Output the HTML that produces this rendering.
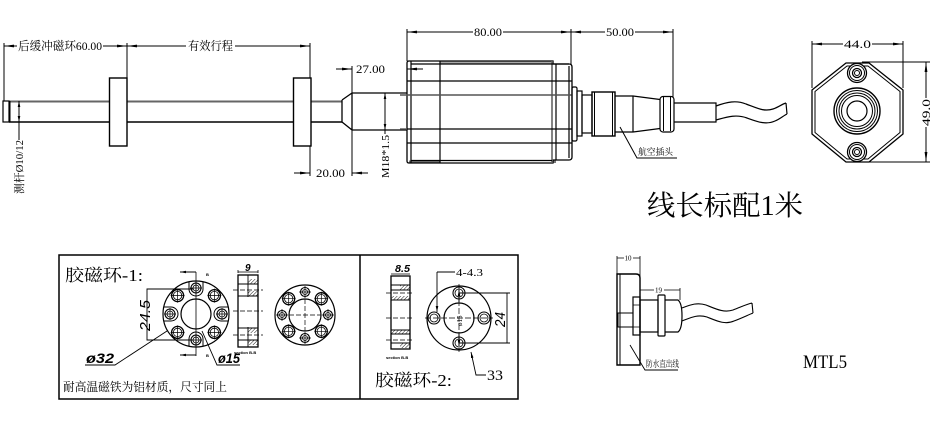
<!DOCTYPE html>
<html><head><meta charset="utf-8">
<style>html,body{margin:0;padding:0;background:#fff;width:935px;height:423px;overflow:hidden}svg{display:block}</style></head>
<body>
<svg width="935" height="423" viewBox="0 0 935 423" xmlns="http://www.w3.org/2000/svg" font-family="'Liberation Serif','Noto Serif CJK SC',serif" fill="none" stroke="#000" stroke-width="1">
<defs>
<marker id="a" viewBox="0 0 10 4" refX="10" refY="2" markerWidth="10" markerHeight="4" markerUnits="userSpaceOnUse" orient="auto-start-reverse"><path d="M0,0.6L10,2L0,3.4z" fill="#000" stroke="none"/></marker>
<marker id="s" viewBox="0 0 6 3" refX="6" refY="1.5" markerWidth="6" markerHeight="3" markerUnits="userSpaceOnUse" orient="auto-start-reverse"><path d="M0,0.2L6,1.5L0,2.8z" fill="#000" stroke="none"/></marker>
<pattern id="h" width="2.5" height="2.5" patternUnits="userSpaceOnUse" patternTransform="rotate(45)"><line x1="0" y1="0" x2="0" y2="2.5" stroke="#000" stroke-width="0.9"/></pattern>
<g id="hc">
<path d="M189,282V289A7,7 0 0 0 203,289V282" stroke-width="1"/>
<circle cx="196" cy="288" r="5" stroke-width="1.1"/><circle cx="196" cy="288" r="3" stroke-width="0.8"/>
<path d="M190,288H202M196,282V294" stroke-width="0.7"/>
</g>
<g id="hd">
<circle cx="0" cy="0" r="6" stroke-width="1.3"/><circle cx="0" cy="0" r="4.2" stroke-width="0.8"/>
<path d="M-7,0H7M0,-7V7" stroke-width="0.7"/>
</g>
<g id="hb">
<circle cx="0" cy="0" r="4.5" stroke-width="1.1"/><circle cx="0" cy="0" r="2.5" stroke-width="0.8"/>
<path d="M-6,0H6M0,-6V6" stroke-width="0.7"/>
</g>
</defs>

<!-- ===== TOP: rod & magnets ===== -->
<line x1="4" y1="43" x2="4" y2="101"/>
<line x1="127" y1="43" x2="127" y2="78"/>
<line x1="310" y1="43" x2="310" y2="176"/>
<path d="M17,46H4" marker-end="url(#a)"/>
<path d="M103,46H127" marker-end="url(#a)"/>
<path d="M186,46H127" marker-end="url(#a)"/>
<path d="M235,46H310" marker-end="url(#a)"/>

<line x1="9" y1="101.5" x2="342" y2="101.5" stroke="#666" stroke-width="2"/>
<line x1="9" y1="122" x2="342" y2="122" stroke-width="1.5"/>
<rect x="3" y="101" width="6" height="21" stroke-width="1.2"/>
<line x1="10" y1="101" x2="10" y2="122"/>
<rect x="109.5" y="78" width="17.5" height="68" fill="#fff" stroke-width="1.4"/>
<rect x="293.5" y="78" width="17.5" height="68" fill="#fff" stroke-width="1.4"/>

<path d="M19,112V101" marker-end="url(#s)"/>
<path d="M19,112V122" marker-end="url(#s)"/>
<line x1="19" y1="122" x2="19" y2="140"/>

<!-- thread section -->
<path d="M342,100V122M342,100L352,93H407M342,122L352,130H407M352,93V130" stroke-width="1.3"/>
<line x1="352" y1="66" x2="352" y2="176"/>
<path d="M336,69H352" marker-end="url(#a)"/>
<path d="M423,69H407" marker-end="url(#a)"/>
<path d="M294,173H310" marker-end="url(#a)"/>
<path d="M368,173H352" marker-end="url(#a)"/>
<path d="M385,112V93" marker-end="url(#s)"/>
<path d="M385,112V130" marker-end="url(#s)"/>
<line x1="385" y1="130" x2="385" y2="134"/>

<!-- housing -->
<rect x="440" y="61" width="112" height="3" fill="#aaa" stroke="none"/>
<rect x="409" y="160.5" width="31" height="2.5" fill="#777" stroke="none"/>
<rect x="552" y="160.5" width="4" height="2.5" fill="#777" stroke="none"/>
<path d="M409,61H553V64H569Q572,64 572,67V157Q572,160 569,160H553V163H409Q407,163 407,161V63Q407,61 409,61Z" stroke-width="1.3"/>
<path d="M411,61V163M440,61V163M556,64V160M569,66V158" stroke-width="1.2"/>
<line x1="552" y1="61" x2="552" y2="163" stroke="#666" stroke-width="1.6"/>
<path d="M411,64H569M407,81H572M407,129H572M407,143H572M411,160.5H552" stroke-width="1.2"/>
<line x1="400" y1="95" x2="572" y2="95" stroke="#555" stroke-width="1.4"/>
<line x1="400" y1="129" x2="407" y2="129" stroke="#555" stroke-width="1.4"/>

<!-- connector -->
<rect x="572" y="87" width="5" height="54" rx="1.5" stroke-width="1.2"/>
<rect x="577" y="91" width="5" height="45" stroke-width="1.2"/>
<rect x="582" y="95" width="10" height="38" stroke-width="1.2"/>
<rect x="592" y="92" width="23" height="44" stroke-width="1.4"/>
<path d="M594.5,92V136M612.5,92V136"/>
<path d="M615,96H633V132H615M633,96L660,99.5M633,132L660,128.5" stroke-width="1.2"/>
<rect x="660" y="96.5" width="14" height="35.5" rx="3" stroke-width="1.2"/>
<path d="M663.5,97V131M670.5,97V131"/>
<path d="M674,103H716V122H674" stroke-width="1.2"/>
<path d="M716,106C727,102 736,100 746,104C757,108 764,112 773,109C779,107 782,104 786,103M716,120C727,117 736,114 747,118C758,122 766,125 775,121C780,119 783,116 787,114M786,103L787,114" stroke-width="1.2"/>
<path d="M620,127L637,158H677"/>

<!-- top dims 80 / 50 -->
<line x1="407" y1="29" x2="407" y2="61"/>
<line x1="571" y1="29" x2="571" y2="64"/>
<line x1="673" y1="29" x2="673" y2="97"/>
<path d="M473,32H407" marker-end="url(#a)"/>
<path d="M503,32H571" marker-end="url(#a)"/>
<path d="M605,32H571" marker-end="url(#a)"/>
<path d="M635,32H673" marker-end="url(#a)"/>

<!-- end view -->
<line x1="812" y1="41" x2="812" y2="88"/>
<line x1="903" y1="41" x2="903" y2="88"/>
<path d="M843,44H812" marker-end="url(#a)"/>
<path d="M872,44H903" marker-end="url(#a)"/>
<line x1="862" y1="62" x2="930" y2="62"/>
<line x1="862" y1="162" x2="930" y2="162"/>
<path d="M926,98V62" marker-end="url(#a)"/>
<path d="M926,127V162" marker-end="url(#a)"/>
<path d="M812,90L846,63H869L903,90V134L869,162H846L812,134Z" stroke-width="1.3" stroke-linejoin="round"/>
<path d="M815,91.5L847,66H868L900,91.5V132.5L868,159H847L815,132.5Z" stroke-width="1" stroke-linejoin="round"/>
<circle cx="857" cy="73" r="9.5" fill="#fff" stroke-width="1.3"/>
<circle cx="857" cy="73" r="7.5"/><circle cx="857" cy="73" r="4.5" stroke-width="1.3"/><circle cx="857" cy="73" r="2.5"/>
<circle cx="857" cy="152" r="9.5" fill="#fff" stroke-width="1.3"/>
<circle cx="857" cy="152" r="7.5"/><circle cx="857" cy="152" r="4.5" stroke-width="1.3"/><circle cx="857" cy="152" r="2.5"/>
<circle cx="857" cy="111" r="23" stroke-width="1.4"/>
<circle cx="857" cy="111" r="20.5"/><circle cx="857" cy="111" r="18"/><circle cx="857" cy="111" r="15.5"/>
<circle cx="857" cy="111" r="10" stroke-width="1.2"/>

<!-- ===== bottom box ===== -->
<rect x="59" y="255" width="459" height="144" stroke-width="1.5"/>
<line x1="360" y1="255" x2="360" y2="399" stroke-width="1.5"/>

<!-- ring 1 front -->
<circle cx="196" cy="314" r="33" stroke-width="1.2"/>
<circle cx="196" cy="314" r="15" stroke-width="1.2"/>
<use href="#hc"/>
<use href="#hc" transform="rotate(90 196 314)"/>
<use href="#hc" transform="rotate(180 196 314)"/>
<use href="#hc" transform="rotate(270 196 314)"/>
<use href="#hd" x="177.6" y="295.6"/>
<use href="#hd" x="214.4" y="295.6"/>
<use href="#hd" x="177.6" y="332.4"/>
<use href="#hd" x="214.4" y="332.4"/>
<line x1="196" y1="272" x2="196" y2="356" stroke-width="0.8"/>
<path d="M196,272H180" marker-end="url(#s)"/>
<path d="M196,355H180" marker-end="url(#s)"/>
<path d="M193,289H147V340H193" stroke-width="0.9"/>
<path d="M85,365H115L167,331M202,331L217,365H240" stroke-width="0.9"/>

<!-- section 1 -->
<rect x="248" y="279" width="10" height="5" fill="url(#h)" stroke="none"/>
<rect x="248" y="291" width="10" height="5" fill="url(#h)" stroke="none"/>
<rect x="248" y="328" width="10" height="5" fill="url(#h)" stroke="none"/>
<rect x="248" y="340" width="10" height="5" fill="url(#h)" stroke="none"/>
<rect x="238" y="275" width="20" height="72" stroke-width="1.3"/>
<path d="M248,275V297M248,327V347M238,284H258M238,296H258M238,328H258M238,340H258" stroke-width="0.9"/>
<path d="M233,290H263M233,311H263M233,335H263" stroke-width="0.7" stroke-dasharray="5,2"/>
<path d="M238,273V270M258,273V270M238,272H258" stroke-width="0.8"/>

<!-- ring 1 back -->
<circle cx="305" cy="315" r="30" stroke-width="1.2"/>
<circle cx="305" cy="315" r="16" stroke-width="1.2"/>
<path d="M289,315H321M305,299V331" stroke-width="0.7" stroke-dasharray="5,2"/>
<use href="#hb" x="305" y="292"/>
<use href="#hb" x="305" y="338"/>
<use href="#hb" x="282" y="315"/>
<use href="#hb" x="328" y="315"/>
<use href="#hd" x="288.7" y="298.7"/>
<use href="#hd" x="321.3" y="298.7"/>
<use href="#hd" x="288.7" y="331.3"/>
<use href="#hd" x="321.3" y="331.3"/>

<!-- section 2 -->
<rect x="400" y="285" width="10" height="5" fill="url(#h)" stroke="none"/>
<rect x="391" y="296" width="19" height="4" fill="url(#h)" stroke="none"/>
<rect x="391" y="330" width="19" height="4" fill="url(#h)" stroke="none"/>
<rect x="400" y="343" width="10" height="5" fill="url(#h)" stroke="none"/>
<rect x="391" y="276" width="19" height="73" stroke-width="1.3"/>
<path d="M391,285H410M391,290H410M391,300H410M391,330H410M391,334H410M391,343H410" stroke-width="0.9"/>
<path d="M386,293H414M386,318H414M386,340H414" stroke-width="0.7" stroke-dasharray="5,2"/>
<path d="M391,274H410" stroke-width="0.8"/>

<!-- ring 2 front -->
<circle cx="459" cy="318" r="32" stroke-width="1.2"/>
<circle cx="459" cy="318" r="15" stroke-width="1.2"/>
<path d="M425,318H493M459,284V352" stroke-width="0.7" stroke-dasharray="6,2"/>
<circle cx="459" cy="293" r="6" stroke-width="1.1"/><circle cx="459" cy="293" r="4" stroke-width="0.8"/>
<circle cx="459" cy="343" r="6" stroke-width="1.1"/><circle cx="459" cy="343" r="4" stroke-width="0.8"/>
<circle cx="434" cy="318" r="6" stroke-width="1.1"/><circle cx="434" cy="318" r="4" stroke-width="0.8"/>
<circle cx="484" cy="318" r="6" stroke-width="1.1"/><circle cx="484" cy="318" r="4" stroke-width="0.8"/>
<path d="M459,302V290" marker-end="url(#s)"/>
<path d="M459,334V346" marker-end="url(#s)"/>
<path d="M455,272H437" stroke-width="0.9"/>
<path d="M437,272V312" marker-end="url(#s)" stroke-width="0.9"/>
<path d="M459,293H510M459,343H510M507,293V343" stroke-width="0.9"/>
<path d="M486,375H476L471,352" marker-end="url(#s)" stroke-width="0.9"/>

<!-- MTL5 side view -->
<path d="M617,274H636Q640,274 640,278V365H617Z" stroke-width="1.4"/>
<line x1="620" y1="274" x2="620" y2="365"/>
<rect x="618" y="313" width="15" height="14"/>
<rect x="633" y="297" width="7" height="38" stroke-width="1.2"/>
<path d="M633,305H640M633,327H640" stroke-width="0.8"/>
<rect x="640" y="300" width="18" height="32" stroke-width="1.2"/>
<rect x="658" y="295" width="7" height="41" rx="1" stroke-width="1.2"/>
<path d="M665,300H678Q682,303 682,316Q682,329 678,332H665" stroke-width="1.2"/>
<path d="M682,308C690,305 697,302 706,305C716,309 724,313 733,310C741,307 747,304 752,303M682,321C690,318 697,314 707,317C717,321 725,325 734,321C742,318 748,315 753,313M752,303L753,313" stroke-width="1.1"/>
<path d="M617,256V274M640,256V278M617,258H624M633,258H640" stroke-width="0.8"/>
<path d="M640,288V300M680,288V300M640,290H654M664,290H680" stroke-width="0.8"/>
<path d="M630,345L645,370H678" stroke-width="0.9"/>

<!-- ===== TEXT ===== -->
<g fill="#000" stroke="none">
<text x="18" y="50" font-size="12" textLength="84" lengthAdjust="spacingAndGlyphs">后缓冲磁环60.00</text>
<text x="188" y="50" font-size="12" textLength="45" lengthAdjust="spacingAndGlyphs">有效行程</text>
<text transform="translate(23,194) rotate(-90)" font-size="11" textLength="54" lengthAdjust="spacingAndGlyphs">测杆Ø10/12</text>
<text x="356" y="73" font-size="12" textLength="29" lengthAdjust="spacingAndGlyphs">27.00</text>
<text x="316" y="177" font-size="12" textLength="29" lengthAdjust="spacingAndGlyphs">20.00</text>
<text transform="translate(389,178) rotate(-90)" font-size="11" textLength="43" lengthAdjust="spacingAndGlyphs">M18*1.5</text>
<text x="474" y="36" font-size="12" textLength="28" lengthAdjust="spacingAndGlyphs">80.00</text>
<text x="606" y="36" font-size="12" textLength="28" lengthAdjust="spacingAndGlyphs">50.00</text>
<text x="638" y="155" font-size="9" textLength="35" lengthAdjust="spacingAndGlyphs">航空插头</text>
<text x="844" y="48" font-size="12" textLength="27" lengthAdjust="spacingAndGlyphs">44.0</text>
<text transform="translate(930,126) rotate(-90)" font-size="12" textLength="27" lengthAdjust="spacingAndGlyphs">49.0</text>
<text x="647" y="215" font-size="28" textLength="156" lengthAdjust="spacingAndGlyphs">线长标配1米</text>

<text x="65" y="281" font-size="17" textLength="78" lengthAdjust="spacingAndGlyphs">胶磁环-1:</text>
<text x="63" y="391" font-size="12" textLength="164" lengthAdjust="spacingAndGlyphs">耐高温磁铁为铝材质，尺寸同上</text>
<g font-family="'Liberation Sans',sans-serif" font-style="italic">
<text transform="translate(150,331) rotate(-90)" font-size="15" textLength="31" lengthAdjust="spacingAndGlyphs">24.5</text>
<text x="86" y="363" font-size="14" font-weight="bold" textLength="28" lengthAdjust="spacingAndGlyphs">ø32</text>
<text x="218" y="363" font-size="14" font-weight="bold" textLength="22" lengthAdjust="spacingAndGlyphs">ø15</text>
<text x="245" y="271" font-size="10" font-weight="bold">9</text>
<text x="395" y="272" font-size="10" font-weight="bold" textLength="15" lengthAdjust="spacingAndGlyphs">8.5</text>
<text transform="translate(505,327) rotate(-90)" font-size="15" textLength="15" lengthAdjust="spacingAndGlyphs">24</text>
</g>
<g font-family="'Liberation Sans',sans-serif" font-weight="bold" font-size="4">
<text x="206" y="276">B</text>
<text x="206" y="357">B</text>
<text x="234" y="354">section B-B</text>
<text x="386" y="359">section B-B</text>
</g>
<text x="456" y="276" font-size="10" textLength="27" lengthAdjust="spacingAndGlyphs">4-4.3</text>
<text transform="translate(462,326) rotate(-90)" font-size="7">ø15</text>
<text x="487" y="380" font-size="15" textLength="16" lengthAdjust="spacingAndGlyphs">33</text>
<text x="375" y="386" font-size="17" textLength="77" lengthAdjust="spacingAndGlyphs">胶磁环-2:</text>

<text x="624.5" y="260.5" font-size="7">10</text>
<text x="655" y="292.5" font-size="7">19</text>
<text x="646" y="367" font-size="9" textLength="33" lengthAdjust="spacingAndGlyphs">防水直出线</text>
<text x="803" y="368" font-size="19" textLength="44" lengthAdjust="spacingAndGlyphs">MTL5</text>
</g>
</svg>
</body></html>
